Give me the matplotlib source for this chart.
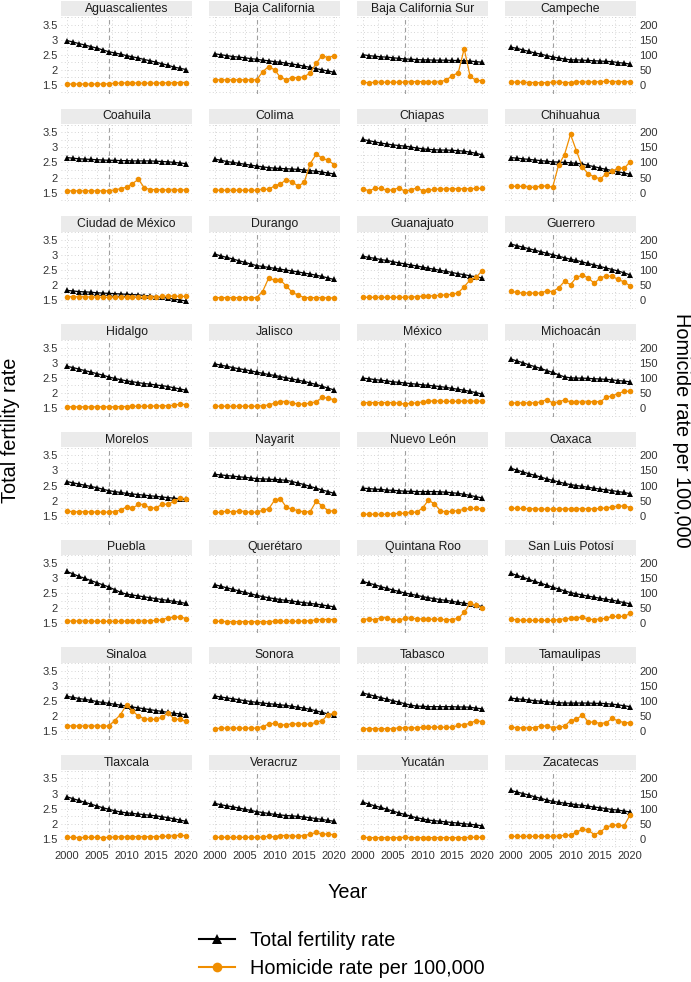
import matplotlib
matplotlib.use("Agg")
import matplotlib.pyplot as plt
from matplotlib.patches import Rectangle
from matplotlib.lines import Line2D

plt.rcParams['font.family'] = ['Liberation Sans', 'DejaVu Sans']

years = list(range(2000, 2021))

states = ["Aguascalientes", "Baja California", "Baja California Sur", "Campeche",
          "Coahuila", "Colima", "Chiapas", "Chihuahua",
          "Ciudad de México", "Durango", "Guanajuato", "Guerrero",
          "Hidalgo", "Jalisco", "México", "Michoacán",
          "Morelos", "Nayarit", "Nuevo León", "Oaxaca",
          "Puebla", "Querétaro", "Quintana Roo", "San Luis Potosí",
          "Sinaloa", "Sonora", "Tabasco", "Tamaulipas",
          "Tlaxcala", "Veracruz", "Yucatán", "Zacatecas"]

ags_tfr = [2.97, 2.92, 2.87, 2.82, 2.77, 2.72, 2.66, 2.60, 2.56, 2.52, 2.47, 2.43, 2.39, 2.34, 2.30, 2.25, 2.20, 2.15, 2.09, 2.05, 2.01]
ags_hom = [3, 3, 3, 3, 3, 3, 3, 4, 6, 6, 7, 7, 6, 6, 6, 6, 7, 7, 7, 8, 8]
bc_tfr = [2.53, 2.50, 2.47, 2.44, 2.42, 2.40, 2.37, 2.35, 2.32, 2.30, 2.27, 2.25, 2.22, 2.19, 2.16, 2.12, 2.08, 2.04, 2.00, 1.96, 1.92]
bc_hom = [17, 17, 17, 17, 17, 17, 17, 17, 43, 61, 50, 25, 17, 24, 24, 27, 40, 72, 97, 90, 97]
bcs_tfr = [2.50, 2.47, 2.45, 2.43, 2.42, 2.40, 2.38, 2.36, 2.35, 2.34, 2.33, 2.33, 2.32, 2.32, 2.32, 2.31, 2.31, 2.30, 2.29, 2.27, 2.25]
bcs_hom = [9, 7, 9, 9, 9, 9, 9, 9, 11, 11, 11, 10, 9, 11, 16, 31, 40, 120, 28, 15, 14]
camp_tfr = [2.75, 2.71, 2.66, 2.61, 2.56, 2.52, 2.47, 2.43, 2.39, 2.36, 2.33, 2.33, 2.32, 2.31, 2.30, 2.29, 2.28, 2.27, 2.24, 2.22, 2.19]
camp_hom = [10, 9, 9, 8, 8, 7, 8, 9, 9, 8, 8, 10, 10, 10, 10, 11, 12, 11, 11, 11, 11]
coah_tfr = [2.66, 2.64, 2.62, 2.61, 2.60, 2.59, 2.58, 2.57, 2.57, 2.56, 2.56, 2.55, 2.55, 2.55, 2.55, 2.54, 2.53, 2.52, 2.50, 2.48, 2.46]
coah_hom = [6, 6, 6, 6, 6, 6, 6, 6, 9, 13, 18, 30, 44, 16, 10, 10, 9, 9, 9, 9, 9]
col_tfr = [2.61, 2.57, 2.53, 2.50, 2.47, 2.44, 2.41, 2.38, 2.35, 2.33, 2.31, 2.30, 2.29, 2.28, 2.27, 2.25, 2.23, 2.21, 2.18, 2.15, 2.12]
col_hom = [8, 8, 8, 8, 8, 8, 8, 8, 11, 11, 22, 29, 43, 35, 21, 35, 96, 127, 114, 107, 93]
chis_tfr = [3.26, 3.22, 3.18, 3.14, 3.11, 3.08, 3.06, 3.04, 3.01, 2.98, 2.95, 2.93, 2.92, 2.91, 2.91, 2.90, 2.89, 2.87, 2.84, 2.80, 2.75]
chis_hom = [13, 6, 14, 14, 8, 9, 16, 5, 9, 15, 7, 8, 11, 12, 12, 13, 13, 13, 13, 14, 14]
chih_tfr = [2.66, 2.64, 2.62, 2.60, 2.58, 2.56, 2.54, 2.52, 2.51, 2.50, 2.49, 2.47, 2.45, 2.40, 2.36, 2.31, 2.27, 2.23, 2.19, 2.15, 2.11]
chih_hom = [21, 21, 21, 19, 17, 22, 22, 18, 91, 126, 193, 138, 84, 62, 52, 45, 63, 70, 82, 80, 102]
cdmx_tfr = [1.83, 1.81, 1.79, 1.78, 1.77, 1.75, 1.74, 1.73, 1.72, 1.71, 1.70, 1.69, 1.68, 1.66, 1.64, 1.62, 1.60, 1.57, 1.54, 1.51, 1.48]
cdmx_hom = [12, 12, 12, 12, 11, 11, 10, 10, 10, 10, 10, 10, 10, 10, 10, 12, 13, 14, 14, 13, 13]
dgo_tfr = [3.03, 2.97, 2.92, 2.87, 2.81, 2.76, 2.70, 2.65, 2.62, 2.59, 2.56, 2.53, 2.50, 2.47, 2.44, 2.40, 2.37, 2.33, 2.29, 2.24, 2.19]
dgo_hom = [9, 9, 9, 9, 9, 9, 9, 9, 29, 73, 67, 67, 47, 26, 17, 9, 9, 9, 9, 8, 8]
gto_tfr = [2.96, 2.92, 2.89, 2.85, 2.82, 2.78, 2.74, 2.71, 2.67, 2.64, 2.60, 2.56, 2.53, 2.49, 2.46, 2.42, 2.38, 2.35, 2.31, 2.28, 2.24]
gto_hom = [10, 10, 10, 10, 10, 10, 10, 10, 11, 12, 14, 15, 15, 17, 18, 20, 25, 45, 68, 76, 98]
gro_tfr = [3.36, 3.31, 3.26, 3.21, 3.16, 3.11, 3.06, 3.01, 2.96, 2.91, 2.86, 2.82, 2.77, 2.72, 2.67, 2.62, 2.57, 2.52, 2.47, 2.41, 2.34]
gro_hom = [30, 26, 24, 24, 24, 24, 31, 29, 41, 63, 52, 76, 83, 74, 56, 75, 80, 80, 69, 61, 48]
hgo_tfr = [2.88, 2.84, 2.79, 2.74, 2.69, 2.64, 2.59, 2.53, 2.48, 2.44, 2.40, 2.37, 2.34, 2.31, 2.29, 2.26, 2.24, 2.21, 2.17, 2.13, 2.09]
hgo_hom = [4, 4, 4, 4, 4, 4, 4, 4, 4, 5, 5, 6, 6, 6, 6, 7, 7, 8, 9, 13, 11]
jal_tfr = [2.96, 2.92, 2.88, 2.84, 2.80, 2.77, 2.73, 2.69, 2.65, 2.61, 2.58, 2.54, 2.50, 2.46, 2.42, 2.38, 2.33, 2.28, 2.22, 2.16, 2.10]
jal_hom = [6, 6, 6, 6, 6, 6, 6, 6, 8, 10, 16, 21, 21, 18, 12, 14, 16, 21, 35, 33, 27]
mex_tfr = [2.49, 2.47, 2.44, 2.42, 2.40, 2.37, 2.35, 2.33, 2.31, 2.29, 2.27, 2.25, 2.23, 2.21, 2.18, 2.15, 2.12, 2.09, 2.05, 2.01, 1.96]
mex_hom = [18, 18, 18, 18, 18, 18, 16, 13, 16, 17, 20, 22, 24, 22, 22, 22, 22, 23, 23, 23, 23]
mich_tfr = [3.12, 3.06, 3.00, 2.93, 2.87, 2.81, 2.74, 2.68, 2.60, 2.53, 2.50, 2.49, 2.49, 2.48, 2.47, 2.46, 2.45, 2.43, 2.41, 2.39, 2.37]
mich_hom = [17, 17, 17, 17, 17, 20, 28, 17, 20, 27, 20, 20, 20, 21, 21, 21, 35, 41, 47, 56, 55]
mor_tfr = [2.63, 2.59, 2.55, 2.51, 2.47, 2.43, 2.38, 2.33, 2.30, 2.27, 2.24, 2.22, 2.20, 2.18, 2.16, 2.14, 2.12, 2.10, 2.08, 2.06, 2.04]
mor_hom = [16, 13, 13, 13, 13, 12, 12, 12, 13, 19, 29, 24, 38, 37, 24, 27, 38, 38, 48, 59, 56]
nay_tfr = [2.87, 2.85, 2.83, 2.81, 2.79, 2.77, 2.75, 2.73, 2.72, 2.71, 2.70, 2.69, 2.67, 2.63, 2.58, 2.53, 2.47, 2.41, 2.35, 2.30, 2.24]
nay_hom = [11, 11, 16, 12, 16, 14, 11, 12, 18, 22, 51, 56, 28, 21, 17, 12, 14, 48, 33, 16, 16]
nl_tfr = [2.41, 2.40, 2.38, 2.37, 2.35, 2.34, 2.33, 2.31, 2.31, 2.30, 2.30, 2.30, 2.30, 2.29, 2.28, 2.26, 2.24, 2.21, 2.17, 2.13, 2.09]
nl_hom = [5, 5, 5, 5, 5, 6, 8, 8, 11, 12, 25, 52, 39, 17, 12, 15, 17, 21, 24, 24, 23]
oax_tfr = [3.07, 3.01, 2.95, 2.89, 2.84, 2.78, 2.72, 2.67, 2.62, 2.57, 2.53, 2.50, 2.47, 2.44, 2.41, 2.38, 2.36, 2.33, 2.30, 2.27, 2.23]
oax_hom = [25, 24, 24, 23, 23, 22, 22, 22, 22, 22, 23, 23, 23, 23, 23, 24, 26, 29, 31, 33, 27]
pue_tfr = [3.22, 3.14, 3.06, 2.99, 2.92, 2.85, 2.78, 2.71, 2.62, 2.53, 2.47, 2.44, 2.41, 2.38, 2.35, 2.32, 2.29, 2.26, 2.23, 2.20, 2.16]
pue_hom = [8, 8, 8, 8, 8, 7, 7, 7, 7, 7, 8, 8, 8, 8, 9, 10, 12, 19, 20, 22, 16]
qro_tfr = [2.78, 2.73, 2.68, 2.63, 2.58, 2.53, 2.48, 2.43, 2.39, 2.35, 2.32, 2.29, 2.26, 2.24, 2.21, 2.19, 2.16, 2.14, 2.11, 2.08, 2.05]
qro_hom = [7, 7, 6, 6, 6, 6, 6, 6, 6, 6, 7, 7, 7, 7, 7, 8, 9, 12, 13, 13, 13]
qroo_tfr = [2.89, 2.83, 2.78, 2.72, 2.66, 2.61, 2.56, 2.51, 2.47, 2.43, 2.39, 2.35, 2.32, 2.29, 2.26, 2.23, 2.20, 2.17, 2.14, 2.10, 2.06]
qroo_hom = [13, 15, 12, 19, 19, 11, 10, 17, 18, 15, 15, 14, 14, 14, 12, 13, 17, 37, 66, 60, 51]
slp_tfr = [3.16, 3.09, 3.03, 2.96, 2.89, 2.83, 2.77, 2.70, 2.64, 2.58, 2.52, 2.48, 2.44, 2.40, 2.37, 2.33, 2.30, 2.27, 2.23, 2.19, 2.15]
slp_hom = [14, 12, 10, 10, 10, 10, 10, 10, 13, 15, 17, 19, 20, 14, 13, 15, 17, 23, 23, 23, 33]
sin_tfr = [2.65, 2.62, 2.58, 2.55, 2.52, 2.48, 2.45, 2.42, 2.39, 2.36, 2.33, 2.30, 2.27, 2.24, 2.21, 2.18, 2.15, 2.12, 2.09, 2.07, 2.04]
sin_hom = [18, 17, 17, 17, 17, 17, 17, 17, 35, 55, 87, 68, 49, 41, 39, 39, 47, 60, 40, 39, 32]
son_tfr = [2.66, 2.63, 2.60, 2.57, 2.54, 2.51, 2.48, 2.45, 2.43, 2.41, 2.39, 2.37, 2.35, 2.32, 2.29, 2.26, 2.22, 2.17, 2.12, 2.07, 2.02]
son_hom = [8, 10, 10, 10, 10, 10, 10, 10, 15, 23, 26, 20, 21, 24, 24, 23, 23, 29, 35, 54, 59]
tab_tfr = [2.76, 2.71, 2.66, 2.61, 2.56, 2.51, 2.46, 2.41, 2.36, 2.33, 2.32, 2.31, 2.31, 2.31, 2.31, 2.31, 2.30, 2.30, 2.29, 2.26, 2.24]
tab_hom = [8, 8, 8, 8, 8, 8, 11, 11, 11, 11, 13, 13, 13, 13, 13, 13, 19, 21, 26, 35, 31]
tamps_tfr = [2.59, 2.57, 2.55, 2.53, 2.51, 2.49, 2.47, 2.45, 2.44, 2.43, 2.43, 2.43, 2.43, 2.43, 2.42, 2.42, 2.41, 2.39, 2.37, 2.34, 2.31]
tamps_hom = [14, 11, 11, 11, 12, 17, 17, 12, 13, 16, 35, 39, 54, 30, 30, 25, 28, 42, 34, 28, 28]
tlax_tfr = [2.89, 2.83, 2.77, 2.71, 2.65, 2.59, 2.53, 2.48, 2.43, 2.39, 2.36, 2.34, 2.32, 2.30, 2.28, 2.26, 2.23, 2.20, 2.16, 2.12, 2.08]
tlax_hom = [5, 5, 4, 5, 5, 5, 4, 5, 6, 7, 6, 7, 7, 7, 7, 7, 8, 9, 10, 12, 10]
ver_tfr = [2.67, 2.63, 2.59, 2.56, 2.52, 2.48, 2.44, 2.40, 2.37, 2.34, 2.31, 2.29, 2.27, 2.26, 2.24, 2.22, 2.20, 2.17, 2.14, 2.11, 2.08]
ver_hom = [5, 5, 5, 5, 5, 5, 5, 5, 6, 9, 6, 11, 11, 9, 9, 11, 15, 21, 16, 16, 13]
yuc_tfr = [2.71, 2.65, 2.59, 2.54, 2.48, 2.42, 2.36, 2.31, 2.25, 2.20, 2.16, 2.12, 2.10, 2.08, 2.06, 2.04, 2.02, 2.00, 1.98, 1.96, 1.93]
yuc_hom = [5, 4, 4, 4, 4, 4, 4, 5, 4, 4, 4, 4, 4, 4, 4, 4, 4, 4, 5, 5, 5]
zac_tfr = [3.10, 3.05, 3.00, 2.95, 2.89, 2.84, 2.79, 2.74, 2.71, 2.68, 2.66, 2.63, 2.61, 2.58, 2.55, 2.53, 2.50, 2.47, 2.45, 2.42, 2.39]
zac_hom = [8, 8, 8, 8, 8, 8, 8, 8, 9, 12, 12, 22, 32, 28, 14, 23, 38, 45, 46, 43, 79]

tfr_series = [ags_tfr, bc_tfr, bcs_tfr, camp_tfr, coah_tfr, col_tfr, chis_tfr, chih_tfr,
              cdmx_tfr, dgo_tfr, gto_tfr, gro_tfr, hgo_tfr, jal_tfr, mex_tfr, mich_tfr,
              mor_tfr, nay_tfr, nl_tfr, oax_tfr, pue_tfr, qro_tfr, qroo_tfr, slp_tfr,
              sin_tfr, son_tfr, tab_tfr, tamps_tfr, tlax_tfr, ver_tfr, yuc_tfr, zac_tfr]
hom_series = [ags_hom, bc_hom, bcs_hom, camp_hom, coah_hom, col_hom, chis_hom, chih_hom,
              cdmx_hom, dgo_hom, gto_hom, gro_hom, hgo_hom, jal_hom, mex_hom, mich_hom,
              mor_hom, nay_hom, nl_hom, oax_hom, pue_hom, qro_hom, qroo_hom, slp_hom,
              sin_hom, son_hom, tab_hom, tamps_hom, tlax_hom, ver_hom, yuc_hom, zac_hom]

left_ticks = [1.5, 2, 2.5, 3, 3.5]
left_labels = ["1.5", "2", "2.5", "3", "3.5"]
right_ticks = [0, 50, 100, 150, 200]
x_ticks = [2000, 2005, 2010, 2015, 2020]
event_year = 2007

W, H = 691, 982
fig = plt.figure(figsize=(W / 100, H / 100), dpi=100)

ORANGE = "#F08E00"
col_left = [61, 209, 357, 505]
pw = 131
strip_h = 15.5
panel_h = 77.5
row_step = 107.7
YLIM = (1.2, 3.765)
HLIM = ((YLIM[0] - 1.5) * 100, (YLIM[1] - 1.5) * 100)
tick_color = "#333333"

for i, st in enumerate(states):
    r, c = divmod(i, 4)
    top = 1 + r * row_step + strip_h
    ax = fig.add_axes([col_left[c] / W, 1 - (top + panel_h) / H, pw / W, panel_h / H])
    ax.set_xlim(1999, 2021)
    ax.set_ylim(*YLIM)
    for s in ax.spines.values():
        s.set_visible(False)
    for gx in [2000, 2002.5, 2005, 2007.5, 2010, 2012.5, 2015, 2017.5, 2020]:
        ax.axvline(gx, color="#C8C8C8", lw=0.6, ls=(0, (1, 3)), zorder=0)
    for gy in [1.25, 1.5, 1.75, 2, 2.25, 2.5, 2.75, 3, 3.25, 3.5, 3.75]:
        ax.axhline(gy, color="#C8C8C8", lw=0.6, ls=(0, (1, 3)), zorder=0)
    ax.axvline(event_year, color="#A0A0A0", lw=0.8, ls=(0, (4, 3)), zorder=1)
    ax.set_yticks(left_ticks)
    ax.set_xticks(x_ticks)
    ax.tick_params(length=0, pad=2.5, labelsize=8, colors=tick_color)
    if c == 0:
        ax.set_yticklabels(left_labels)
    else:
        ax.set_yticklabels([])
    if r != 7:
        ax.set_xticklabels([])
    ax.plot(years, tfr_series[i], color="black", lw=0.9, marker="^",
            markersize=3.8, markeredgewidth=0, zorder=3)
    ax2 = ax.twinx()
    ax2.set_ylim(*HLIM)
    for s in ax2.spines.values():
        s.set_visible(False)
    ax2.set_yticks(right_ticks)
    ax2.tick_params(length=0, pad=2.5, labelsize=8, colors=tick_color)
    if c != 3:
        ax2.set_yticklabels([])
    ax2.plot(years, hom_series[i], color=ORANGE, lw=0.9, marker="o",
             markersize=4.0, markeredgewidth=0, zorder=3)
    ax.add_patch(Rectangle((0, 1), 1, strip_h / panel_h, transform=ax.transAxes,
                           facecolor="#EBEBEB", edgecolor="none", clip_on=False))
    ax.text(0.5, 1 + strip_h / panel_h / 2, st, transform=ax.transAxes,
            ha="center", va="center", fontsize=8.8, color="#1A1A1A")

fig.text(11 / W, 1 - 430 / H, "Total fertility rate", rotation=90,
         ha="center", va="center", fontsize=14.3)
fig.text(682 / W, 1 - 430 / H, "Homicide rate per 100,000", rotation=270,
         ha="center", va="center", fontsize=14.3)
fig.text(348 / W, 1 - 893 / H, "Year", ha="center", va="center", fontsize=14.3)

h_tfr = Line2D([], [], color="black", lw=1.5, marker="^", markersize=7, markeredgewidth=0)
h_hom = Line2D([], [], color=ORANGE, lw=1.5, marker="o", markersize=7, markeredgewidth=0)
fig.legend([h_tfr, h_hom], ["Total fertility rate", "Homicide rate per 100,000"],
           loc="upper left", bbox_to_anchor=(199 / W, 1 - 931 / H),
           frameon=False, fontsize=14.3, handlelength=1.8, handletextpad=0.75,
           labelspacing=0.45, borderpad=0, borderaxespad=0, numpoints=1)

fig.savefig("out.png", dpi=100)
